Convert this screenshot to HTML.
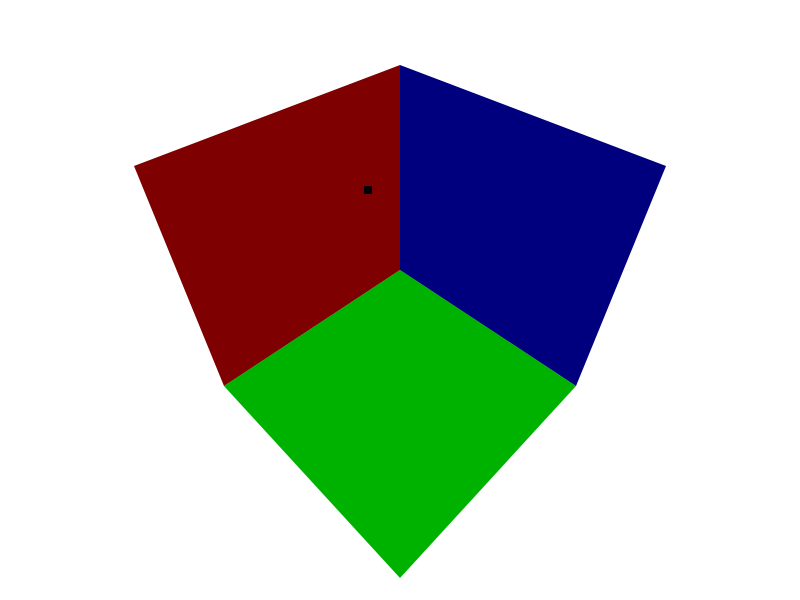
<!DOCTYPE html>
<html>
<head>
<meta charset="utf-8">
<style>
  html, body { margin: 0; padding: 0; background: #ffffff; }
  svg { display: block; }
</style>
</head>
<body>
<svg width="800" height="600" viewBox="0 0 800 600">
  <rect x="0" y="0" width="800" height="600" fill="#ffffff"/>
  <g id="faces"></g>
  <g id="points"></g>
</svg>
<script>
// Face names, colours and projected corner coordinates (screen space)
const faceNames = ['face-left', 'face-right', 'face-bottom'];
const faceColors = ['#7f0000', '#00007f', '#00b200'];
const faceCorners = [
  [[134,166],[400,65],[400,270],[224,386]],
  [[400,65],[666,166],[576,386],[400,270]],
  [[224,386],[400,270],[576,386],[400,578]]
];
// Scatter marker
const pointX = [368];
const pointY = [190];

const NS = 'http://www.w3.org/2000/svg';
const gF = document.getElementById('faces');
faceCorners.forEach((pts, i) => {
  const p = document.createElementNS(NS, 'polygon');
  p.setAttribute('points', pts.map(q => q.join(',')).join(' '));
  p.setAttribute('fill', faceColors[i]);
  
  
  gF.appendChild(p);
});
const gP = document.getElementById('points');
pointX.forEach((x, i) => {
  const r = document.createElementNS(NS, 'rect');
  r.setAttribute('x', x - 4);
  r.setAttribute('y', pointY[i] - 4);
  r.setAttribute('width', 8);
  r.setAttribute('height', 8);
  r.setAttribute('fill', '#000000');
  
  
  gP.appendChild(r);
});
</script>
</body>
</html>
